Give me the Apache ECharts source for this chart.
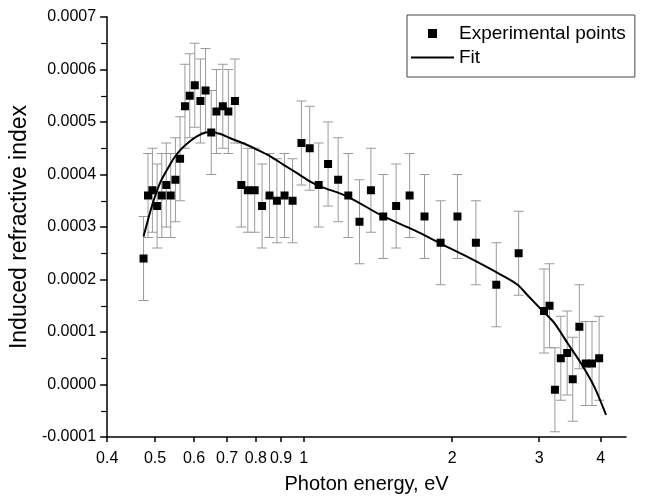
<!DOCTYPE html>
<html>
<head>
<meta charset="utf-8">
<script src="https://cdn.jsdelivr.net/npm/echarts@6/dist/echarts.min.js"></script>
<style>
html, body { margin: 0; padding: 0; background: #fff; }
#chart { width: 652px; height: 501px; }
</style>
</head>
<body>
<div id="chart"></div>
<script>
// measured points (photon energy, eV / induced refractive index)
var energy = [0.474, 0.484, 0.494, 0.505, 0.516, 0.527, 0.538, 0.550, 0.562, 0.575,
    0.588, 0.602, 0.618, 0.633, 0.650, 0.666, 0.686, 0.704, 0.726, 0.748,
    0.771, 0.796, 0.824, 0.853, 0.883, 0.915, 0.950, 0.990, 1.029, 1.073,
    1.121, 1.175, 1.232, 1.298, 1.369, 1.450, 1.540, 1.640, 1.758, 1.895,
    2.050, 2.234, 2.457, 2.727, 3.07, 3.15, 3.23, 3.32, 3.42, 3.51,
    3.62, 3.73, 3.84, 3.97];
var index = [0.00024, 0.00036, 0.00037, 0.00034, 0.00036, 0.00038, 0.00036, 0.00039, 0.00043, 0.00053,
    0.00055, 0.00057, 0.00054, 0.00056, 0.00048, 0.00052, 0.00053, 0.00052, 0.00054, 0.00038,
    0.00037, 0.00037, 0.00034, 0.00036, 0.00035, 0.00036, 0.00035, 0.00046, 0.00045, 0.00038,
    0.00042, 0.00039, 0.00036, 0.00031, 0.00037, 0.00032, 0.00034, 0.00036, 0.00032, 0.00027,
    0.00032, 0.00027, 0.00019, 0.00025, 0.00014, 0.00015, -0.00001, 0.00005, 0.00006, 0.00001,
    0.00011, 0.00004, 0.00004, 0.00005];
var errors = [0.00008, 0.00008, 0.00008, 0.00008, 0.00008, 0.00008, 0.00008, 0.00008, 0.00008, 0.00008,
    0.00008, 0.00008, 0.00008, 0.00008, 0.00008, 0.00008, 0.00008, 0.00008, 0.00008, 0.00008,
    0.00008, 0.00008, 0.00008, 0.00008, 0.00008, 0.00008, 0.00008, 0.00008, 0.00008, 0.00008,
    0.00008, 0.00008, 0.00008, 0.00008, 0.00008, 0.00008, 0.00008, 0.00008, 0.00008, 0.00008,
    0.00008, 0.00008, 0.00008, 0.00008, 0.00008, 0.00008, 0.00008, 0.00008, 0.00008, 0.00008,
    0.00008, 0.00008, 0.00008, 0.00008];

// fit curve
var fitEnergy = [0.474, 0.486, 0.497, 0.513, 0.529, 0.546, 0.563, 0.586, 0.609, 0.633,
    0.650, 0.679, 0.711, 0.757, 0.806, 0.858, 0.913, 0.972, 1.034, 1.083,
    1.227, 1.445, 1.675, 1.891, 2.149, 2.512, 2.714, 2.843, 3.051, 3.222,
    3.43, 3.65, 3.88, 4.10];
var fitIndex = [0.000282, 0.000320, 0.000351, 0.000386, 0.000409, 0.000431, 0.000447, 0.000462, 0.000473, 0.000480,
    0.000481, 0.000477, 0.000469, 0.000459, 0.000447, 0.000434, 0.000418, 0.000402, 0.000386, 0.000377,
    0.000358, 0.000321, 0.000294, 0.000269, 0.000243, 0.000209, 0.000190, 0.000170, 0.000140, 0.000117,
    0.000078, 0.000040, -0.000004, -0.000058];

var xTicks = [0.4, 0.5, 0.6, 0.7, 0.8, 0.9, 1, 2, 3, 4];

var font = 'Liberation Sans, Arial, sans-serif';

var points = energy.map(function (e, i) { return [e, index[i]]; });
var bars = energy.map(function (e, i) { return [e, index[i], errors[i]]; });
var fit = fitEnergy.map(function (e, i) { return [e, fitIndex[i]]; });

var chart = echarts.init(document.getElementById('chart'));
chart.setOption({
    animation: false,
    backgroundColor: '#fff',
    grid: { left: 106, right: 26, top: 17, bottom: 64 },
    legend: {
        orient: 'vertical',
        left: 407, top: 15,
        padding: [9, 9, 10, 3],
        itemWidth: 43, itemHeight: 9, itemGap: 5,
        borderColor: '#444', borderWidth: 1,
        textStyle: { fontFamily: font, fontSize: 19, color: '#000' },
        data: ['Experimental points', { name: 'Fit', itemStyle: { opacity: 0 } }]
    },
    xAxis: {
        type: 'log',
        logBase: 10,
        min: 0.4, max: 4.5,
        name: 'Photon energy, eV',
        nameLocation: 'middle',
        nameGap: 37,
        nameTextStyle: { fontFamily: font, fontSize: 20, color: '#000' },
        axisLine: { onZero: false, lineStyle: { color: '#000', width: 1.5 } },
        axisTick: { inside: false, length: 5, customValues: xTicks, lineStyle: { color: '#000', width: 1.5 } },
        axisLabel: {
            customValues: xTicks,
            margin: 14,
            fontFamily: font, fontSize: 16, color: '#000',
            formatter: function (v) { return String(Number(v.toFixed(1))); }
        },
        minorTick: { show: false },
        splitLine: { show: false }
    },
    yAxis: {
        type: 'value',
        min: -0.0001, max: 0.0007, interval: 0.0001,
        name: 'Induced refractive index',
        nameLocation: 'middle',
        nameGap: 71,
        nameTextStyle: { fontFamily: font, fontSize: 23, color: '#000' },
        axisLine: { show: true, onZero: false, lineStyle: { color: '#000', width: 1.5 } },
        axisTick: { show: true, length: 7, lineStyle: { color: '#000', width: 1.5 } },
        minorTick: { show: true, splitNumber: 2, length: 6, lineStyle: { color: '#000', width: 1.2 } },
        axisLabel: {
            margin: 11,
            fontFamily: font, fontSize: 16, color: '#000',
            formatter: function (v) { return v.toFixed(4); }
        },
        splitLine: { show: false }
    },
    series: [
        {
            name: 'errors',
            type: 'custom',
            data: bars,
            encode: { x: 0, y: 1 },
            z: 2,
            renderItem: function (params, api) {
                var x = api.value(0), y = api.value(1), e = api.value(2);
                var top = api.coord([x, y + e]);
                var bot = api.coord([x, y - e]);
                var w = 5;
                var st = { stroke: '#9a9a9a', lineWidth: 1 };
                return {
                    type: 'group',
                    children: [
                        { type: 'line', shape: { x1: top[0], y1: top[1], x2: bot[0], y2: bot[1] }, style: st },
                        { type: 'line', shape: { x1: top[0] - w, y1: top[1], x2: top[0] + w, y2: top[1] }, style: st },
                        { type: 'line', shape: { x1: bot[0] - w, y1: bot[1], x2: bot[0] + w, y2: bot[1] }, style: st }
                    ]
                };
            }
        },
        {
            name: 'Fit',
            type: 'line',
            data: fit,
            smooth: 0.3,
            showSymbol: false,
            symbol: 'none',
            z: 3,
            lineStyle: { color: '#000', width: 2 },
            itemStyle: { color: '#000' }
        },
        {
            name: 'Experimental points',
            type: 'scatter',
            data: points,
            symbol: 'path://M0,0H10V10H0Z',
            symbolKeepAspect: true,
            symbolSize: 8,
            z: 4,
            itemStyle: { color: '#000', opacity: 1 }
        }
    ]
});
</script>
</body>
</html>
